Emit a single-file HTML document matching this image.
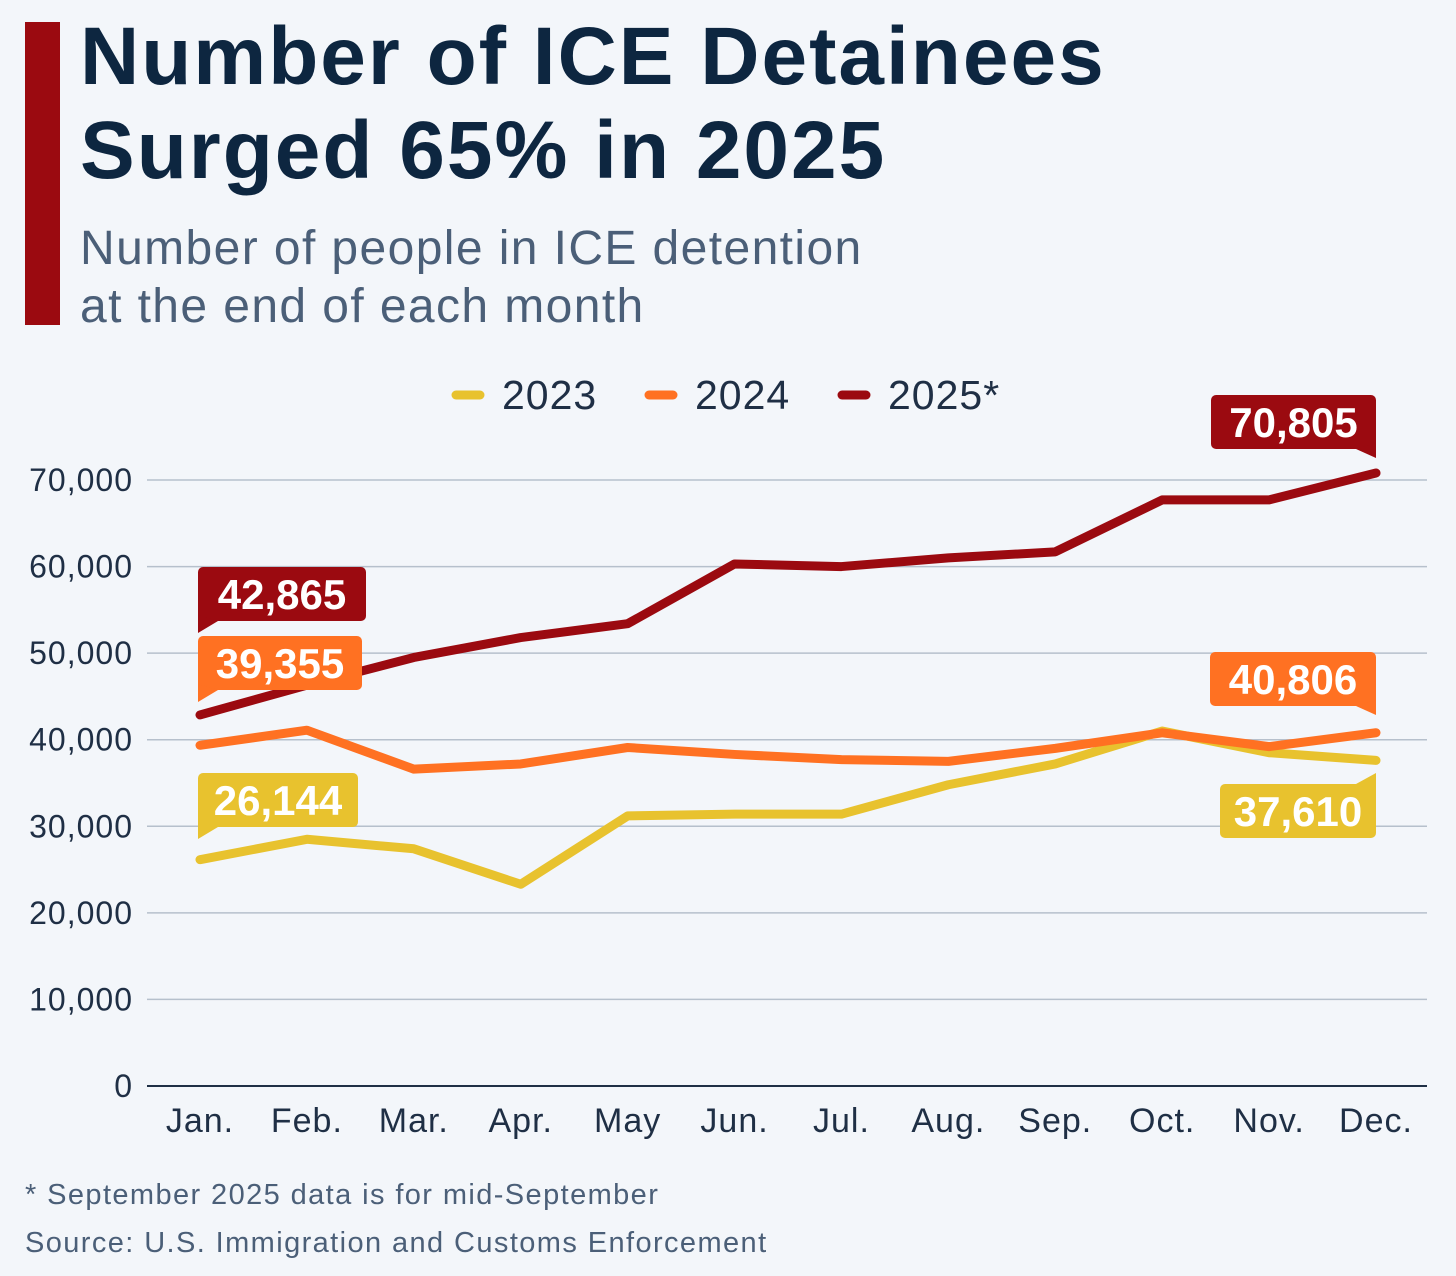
<!DOCTYPE html>
<html><head><meta charset="utf-8">
<style>
html,body{margin:0;padding:0;background:#f3f6fa;}
body{width:1456px;height:1276px;position:relative;overflow:hidden;font-family:"Liberation Sans","DejaVu Sans",sans-serif;}
#bar{position:absolute;left:25px;top:22px;width:35px;height:303px;background:#9b0a10;}
#title{position:absolute;left:80px;top:10px;margin:0;font-size:82px;line-height:94px;font-weight:bold;color:#0d2640;letter-spacing:2px;}
#subtitle{position:absolute;left:80px;top:220px;font-size:48px;line-height:58px;color:#4b5f78;letter-spacing:1.4px;}
svg{position:absolute;left:0;top:0;}
</style></head><body>
<div id="bar"></div>
<h1 id="title">Number of ICE Detainees<br>Surged 65% in 2025</h1>
<div id="subtitle">Number of people in ICE detention<br>at the end of each month</div>
<svg id="chart" width="1456" height="1276"></svg>
<script>
const months = ["Jan.","Feb.","Mar.","Apr.","May","Jun.","Jul.","Aug.","Sep.","Oct.","Nov.","Dec."];
const yTicks = [0,10000,20000,30000,40000,50000,60000,70000];
const s2023 = [26144,28500,27400,23300,31200,31400,31400,34800,37200,41000,38500,37610];
const s2024 = [39355,41100,36600,37200,39100,38300,37700,37500,39000,40800,39200,40806];
const s2025 = [42865,46300,49500,51800,53400,60300,60000,61000,61700,67700,67700,70805];
const seriesNames = ["2023","2024","2025*"];
const colors = ["#e8c22e","#ff7122","#9b0a10"];

const NS="http://www.w3.org/2000/svg";
const svg=document.getElementById('chart');
const x=i=>200+i*(1376-200)/11;
const y=v=>1086-v*(1086-480)/70000;
function mk(t,a,p){const e=document.createElementNS(NS,t);for(const k in a)e.setAttribute(k,a[k]);(p||svg).appendChild(e);return e;}
const fmt=v=>v.toLocaleString('en-US');

yTicks.forEach(t=>{
  const g=mk('line',{x1:147,x2:1427,y1:y(t),y2:y(t),stroke:t===0?'#1f2f45':'#b6c0cc','stroke-width':t===0?2:1.5});
  
  
  const tx=mk('text',{x:133,y:y(t)+11,'text-anchor':'end','font-size':32,fill:'#1f2f45','letter-spacing':1});
  tx.textContent=fmt(t);
  
  
});
months.forEach((m,i)=>{
  const tx=mk('text',{x:x(i),y:1132,'text-anchor':'middle','font-size':34,fill:'#1f2f45','letter-spacing':1});
  tx.textContent=m;
  
  
});
[s2023,s2024,s2025].forEach((s,k)=>{
  const p=mk('polyline',{points:s.map((v,i)=>x(i)+','+y(v)).join(' '),fill:'none',stroke:colors[k],'stroke-width':9,'stroke-linecap':'round','stroke-linejoin':'round'});
  
  
});
const legX=[450,643,836];
seriesNames.forEach((n,k)=>{
  const l=mk('line',{x1:legX[k]+6,x2:legX[k]+30,y1:395,y2:395,stroke:colors[k],'stroke-width':9,'stroke-linecap':'round'});
  
  
  const t=mk('text',{x:legX[k]+52,y:409,'font-size':41,fill:'#1f2f45','letter-spacing':1});
  t.textContent=n;
  
  
});
function callout(series,idx,color,side,boxY,w){
  const v=series[idx];const px=x(idx);const h=54;
  const g=mk('g',{});
  
  
  let bx=side==='left'?px-2:px-w;
  mk('rect',{x:bx,y:boxY,width:w,height:h,rx:5,fill:color},g);
  let tail;
  if(side==='left') tail=`${bx},${boxY+h-6} ${bx+20},${boxY+h} ${bx},${boxY+h+12}`;
  else if(boxY>y(v)) tail=`${bx+w},${boxY+8} ${bx+w-20},${boxY} ${bx+w},${boxY-11}`;
  else tail=`${bx+w},${boxY+h-6} ${bx+w-20},${boxY+h} ${bx+w},${boxY+h+9}`;
  mk('polygon',{points:tail,fill:color},g);
  const t=mk('text',{x:bx+w/2,y:boxY+42,'text-anchor':'middle','font-size':42,'font-weight':'bold',fill:'#fff'},g);
  t.textContent=fmt(v);
}
callout(s2025,0,colors[2],'left',567,168);
callout(s2024,0,colors[1],'left',636,164);
callout(s2023,0,colors[0],'left',773,160);
callout(s2025,11,colors[2],'right',395,165);
callout(s2024,11,colors[1],'right',652,166);
callout(s2023,11,colors[0],'right',784,156);
const f1=mk('text',{x:25,y:1204,'font-size':29,fill:'#4b5f78','letter-spacing':1.4});f1.textContent='* September 2025 data is for mid-September';


const f2=mk('text',{x:25,y:1252,'font-size':29,fill:'#4b5f78','letter-spacing':1.4});f2.textContent='Source: U.S. Immigration and Customs Enforcement';


</script>
</body></html>
